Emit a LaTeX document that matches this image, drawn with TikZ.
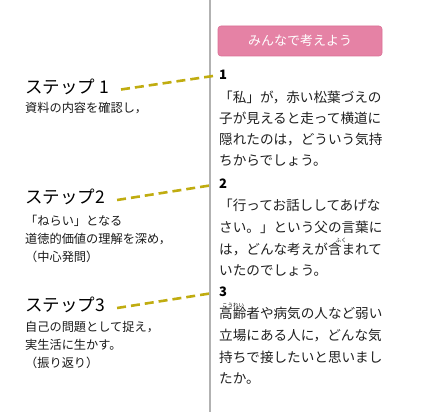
\documentclass[tikz,border=0pt]{standalone}
\usepackage{fontspec}
\setmainfont{Noto Sans CJK JP}
\usepackage{tikz}
\definecolor{stepolive}{RGB}{192,172,16}
\definecolor{boxpink}{RGB}{229,130,165}
\definecolor{boxpinkline}{RGB}{218,112,150}
\definecolor{rulegray}{RGB}{178,178,178}

\begin{document}
\begin{tikzpicture}[x=1pt,y=-1pt,
    jline/.style={anchor=west, inner sep=0pt, text height=0.88em, text depth=0.12em},
    steptitle/.style={jline, font=\fontsize{17.5}{19}\selectfont},
    stepnote/.style={jline, font=\fontsize{12.2}{14}\selectfont, text=black!90},
    qline/.style={jline, font=\fontsize{13.6}{16}\selectfont, text=black!88},
    qnum/.style={jline, font=\fontsize{13}{15}\selectfont\bfseries},
    ruby/.style={inner sep=0pt, font=\fontsize{5.5}{6}\selectfont},
    stepline/.style={draw=stepolive, line width=2.6pt, dash pattern=on 9pt off 5pt}]
    \useasboundingbox (0,0) rectangle (440,412);
    % divider
    \coordinate (T) at (210,0);
    \coordinate (B) at (210,412);
    \draw[rulegray, line width=1.8pt] (T) -- (B);

    % header box
    \node[draw=boxpinkline, fill=boxpink, rounded corners=3pt, line width=0.6pt,
      minimum width=164pt, minimum height=30pt, inner sep=0pt,
      text=white, font=\fontsize{13}{15}\selectfont] (head) at (300,41) {みんなで考えよう};

    % steps on the left
    \node[steptitle] (st1) at (25,89.5) {ステップ 1};
    \node[stepnote] (st1a) at (25,109) {資料の内容を確認し，};

    \node[steptitle] (st2) at (25,200) {ステップ2};
    \node[stepnote] (st2a) at (25,222) {「ねらい」となる};
    \node[stepnote] (st2b) at (25,240) {道徳的価値の理解を深め，};
    \node[stepnote] (st2c) at (25,258) {（中心発問）};

    \node[steptitle] (st3) at (25,308) {ステップ3};
    \node[stepnote] (st3a) at (25,328) {自己の問題として捉え，};
    \node[stepnote] (st3b) at (25,346) {実生活に生かす。};
    \node[stepnote] (st3c) at (25,364) {（振り返り）};

    % questions on the right
    \node[qnum] (n1) at (219,76) {1};
    \node[qline] (q1a) at (219,99) {「私」が，赤い松葉づえの};
    \node[qline] (q1b) at (219,120) {子が見えると走って横道に};
    \node[qline] (q1c) at (219,141) {隠れたのは，どういう気持};
    \node[qline] (q1d) at (219,162) {ちからでしょう。};

    \node[qnum] (n2) at (219,185) {2};
    \node[qline] (q2a) at (219,207) {「行ってお話ししてあげな};
    \node[qline] (q2b) at (219,229) {さい。」という父の言葉に};
    \node[qline] (q2c) at (219,251) {は，どんな考えが含まれて};
    \node[qline] (q2d) at (219,272) {いたのでしょう。};
    \node[ruby] (r2) at (341,240) {ふく};

    \node[qnum] (n3) at (219,293) {3};
    \node[qline] (q3a) at (219,315) {高齢者や病気の人など弱い};
    \node[qline] (q3b) at (219,337) {立場にある人に，どんな気};
    \node[qline] (q3c) at (219,359) {持ちで接したいと思いまし};
    \node[qline] (q3d) at (219,380) {たか。};
    \node[ruby] (r3) at (233,305) {こうれい};

    % dashed links
    \draw[stepline] ([xshift=12pt]st1.east) -- ([xshift=-6pt]n1.west);
    \draw[stepline] ([xshift=12pt]st2.east) -- ([xshift=-6pt]n2.west);
    \draw[stepline] ([xshift=12pt]st3.east) -- ([xshift=-6pt]n3.west);
\end{tikzpicture}
\end{document}
